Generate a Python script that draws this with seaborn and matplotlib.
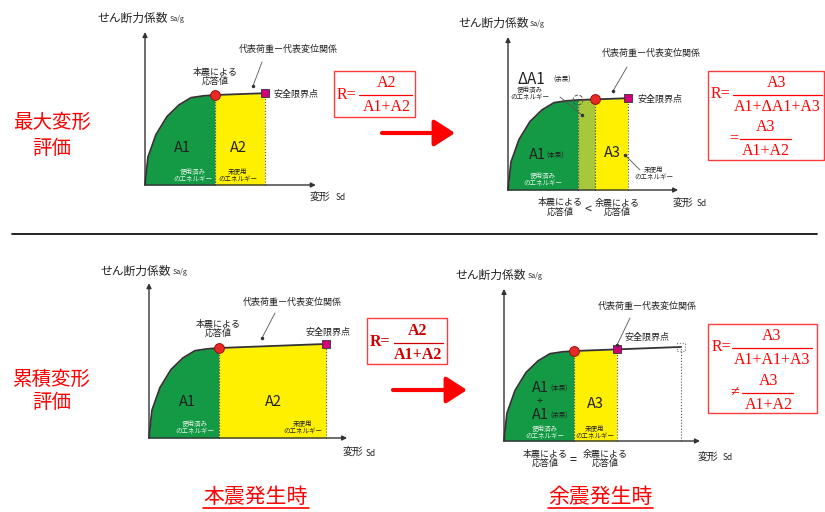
import numpy as np
import matplotlib
matplotlib.use("Agg")
import matplotlib.pyplot as plt
from matplotlib.patches import Rectangle
import seaborn as sns

# 骨格曲線 (代表荷重-代表変位関係): 本震応答で正規化した値
backbone_sd = [0.0, 0.014, 0.043, 0.157, 0.314, 0.486, 0.657, 0.829, 1.0]
backbone_sa = [0.0, 0.11, 0.31, 0.56, 0.76, 0.89, 0.97, 0.99, 1.0]

main_resp_sd = 1.0          # 本震による応答値
after_resp_sd = 1.24        # 余震による応答値 (最大変形評価)
limit_top = (1.71, 1.02)    # 安全限界点 (上段)
limit_bot = (2.53, 1.045)   # 安全限界点 (下段, 当初)
limit_reduced_sd = 1.61     # 累積評価後の安全限界点

# 座標軸の長さ (Sd, Sa)
axis_len = {"p1": (2.44, 1.70), "p2": (2.43, 1.70), "p3": (2.83, 1.72), "p4": (2.80, 1.69)}

GREEN = "#149a45"
LGREEN = "#a6c83a"
YELLOW = "#fff000"
RED = "#ff0000"
JP = ["Noto Sans CJK JP", "DejaVu Sans"]
SERIF = ["Liberation Serif", "DejaVu Serif"]

sns.set_theme(style="white")
plt.rcParams["font.family"] = JP

W, H = 825, 512
SX, SY = 70.0, 90.0  # px per unit

fig = plt.figure(figsize=(W / 100, H / 100), dpi=100)


def panel_axes(ox, oy):
    ax = fig.add_axes([(ox - 10) / W, 1 - (oy + 10) / H, 230 / W, 180 / H])
    ax.set_xlim(-10 / SX, 220 / SX)
    ax.set_ylim(-10 / SY, 170 / SY)
    ax.axis("off")
    return ax


def curve(limit):
    return backbone_sd + [limit[0]], backbone_sa + [limit[1]]


def fill_region(ax, sd, sa, a, b, color):
    xs = [a] + [x for x in sd if a < x < b] + [b]
    ys = list(np.interp(xs, sd, sa))
    ax.fill_between(xs, ys, 0, color=color, lw=0, zorder=1)
    ax.vlines([a, b], 0, [ys[0], ys[-1]], colors="#555555", linestyles=":", lw=0.8, zorder=2)


def draw_axes(ax, key):
    xl, yl = axis_len[key]
    kw = dict(arrowstyle="-|>", color="#333333", lw=1.0, mutation_scale=7, shrinkA=0, shrinkB=0)
    ax.annotate("", xy=(xl, 0), xytext=(0, 0), arrowprops=kw)
    ax.annotate("", xy=(0, yl), xytext=(0, 0), arrowprops=kw)


def draw_curve(ax, sd, sa):
    sns.lineplot(x=sd, y=sa, ax=ax, color="#333333", lw=1.3, sort=False, estimator=None, zorder=3)


def mark(ax, x, y, kind):
    if kind == "resp":
        sns.scatterplot(x=[x], y=[y], ax=ax, s=50, color="#e62a25", edgecolor="#9b1010", linewidth=0.7, zorder=6)
    elif kind == "limit":
        sns.scatterplot(x=[x], y=[y], ax=ax, s=32, marker="s", color="#d1007a", edgecolor="#333333", linewidth=0.6, zorder=6)
    elif kind == "ghost_o":
        ax.scatter([x], [y], s=50, facecolor="none", edgecolor="#555555", linestyle="--", linewidth=0.7, zorder=6)
    elif kind == "ghost_s":
        ax.scatter([x], [y], s=30, marker="s", facecolor="none", edgecolor="#777777", linestyle=":", linewidth=0.8, zorder=6)


# ---------- パネル1: 最大変形評価 / 本震発生時 ----------
ax1 = panel_axes(145, 185)
sd, sa = curve(limit_top)
fill_region(ax1, sd, sa, 0, main_resp_sd, GREEN)
fill_region(ax1, sd, sa, main_resp_sd, limit_top[0], YELLOW)
draw_axes(ax1, "p1")
draw_curve(ax1, sd, sa)
mark(ax1, main_resp_sd, np.interp(main_resp_sd, sd, sa), "resp")
mark(ax1, limit_top[0], limit_top[1], "limit")

# ---------- パネル2: 最大変形評価 / 余震発生時 ----------
ax2 = panel_axes(508, 190)
fill_region(ax2, sd, sa, 0, main_resp_sd, GREEN)
fill_region(ax2, sd, sa, main_resp_sd, after_resp_sd, LGREEN)
fill_region(ax2, sd, sa, after_resp_sd, limit_top[0], YELLOW)
draw_axes(ax2, "p2")
draw_curve(ax2, sd, sa)
mark(ax2, main_resp_sd, np.interp(main_resp_sd, sd, sa), "ghost_o")
mark(ax2, after_resp_sd, np.interp(after_resp_sd, sd, sa), "resp")
mark(ax2, limit_top[0], limit_top[1], "limit")

# ---------- パネル3: 累積変形評価 / 本震発生時 ----------
ax3 = panel_axes(149, 438)
sd, sa = curve(limit_bot)
fill_region(ax3, sd, sa, 0, main_resp_sd, GREEN)
fill_region(ax3, sd, sa, main_resp_sd, limit_bot[0], YELLOW)
draw_axes(ax3, "p3")
draw_curve(ax3, sd, sa)
mark(ax3, main_resp_sd, np.interp(main_resp_sd, sd, sa), "resp")
mark(ax3, limit_bot[0], limit_bot[1], "limit")

# ---------- パネル4: 累積変形評価 / 余震発生時 ----------
ax4 = panel_axes(504, 441)
fill_region(ax4, sd, sa, 0, main_resp_sd, GREEN)
fill_region(ax4, sd, sa, main_resp_sd, limit_reduced_sd, YELLOW)
ax4.vlines([limit_bot[0]], 0, [limit_bot[1]], colors="#555555", linestyles=":", lw=0.8, zorder=2)
draw_axes(ax4, "p4")
draw_curve(ax4, sd, sa)
mark(ax4, main_resp_sd, np.interp(main_resp_sd, sd, sa), "resp")
mark(ax4, limit_reduced_sd, np.interp(limit_reduced_sd, sd, sa), "limit")
mark(ax4, limit_bot[0], limit_bot[1], "ghost_s")

# ---------- 注記レイヤー (ピクセル座標) ----------
ov = fig.add_axes([0, 0, 1, 1], zorder=10)
ov.set_xlim(0, W)
ov.set_ylim(H, 0)
ov.axis("off")


def txt(x, y, s, size, color="#222222", ha="center", family=JP, weight="normal"):
    ov.text(x, y, s, fontsize=size, color=color, ha=ha, va="center", family=family, fontweight=weight)


def leader(x0, y0, x1, y1):
    ov.plot([x0, x1], [y0, y1], color="#555555", lw=0.6)
    ov.plot([x1], [y1], "o", color="#333333", ms=1.5)


def two_lines(x, y, a, b, size, color="#222222", gap=8):
    txt(x, y, a, size, color)
    txt(x, y + gap, b, size, color)


def y_label(x, y, sa_x):
    txt(x, y, "せん断力係数", 8.5, ha="left")
    txt(sa_x, y + 1, "Sa/g", 5, ha="left")


def x_label(x, y, sd_x):
    txt(x, y, "変形", 7.5, ha="left")
    txt(sd_x, y + 1, "Sd", 6, ha="left")


SMALL = 4.7
WHITE_TXT = "#e8f3ea"

# パネル1
y_label(97, 18, 170)
txt(288, 49, "代表荷重ー代表変位関係", 6.5)
leader(262, 62, 253, 86)
two_lines(215, 72, "本震による", "応答値", 6.5, gap=9)
txt(273, 94, "安全限界点", 6.5, ha="left")
txt(182, 148, "A1", 10.5)
txt(238, 148, "A2", 10.5)
two_lines(193, 172, "使用済み", "のエネルギー", SMALL, WHITE_TXT, gap=7)
two_lines(238, 172, "未使用", "のエネルギー", SMALL, gap=7)
x_label(310, 197, 336)

# パネル2
y_label(458, 23, 530)
txt(651, 53, "代表荷重ー代表変位関係", 6.5)
leader(627, 67, 613, 91)
txt(517, 79, "ΔA1", 11, ha="left")
txt(553, 80, "(余震)", SMALL, ha="left")
two_lines(530, 90, "使用済み", "のエネルギー", SMALL, gap=7)
leader(560, 97, 582, 115)
txt(637, 99, "安全限界点", 6.5, ha="left")
txt(537, 155, "A1", 10.5)
txt(555, 156, "(本震)", SMALL)
two_lines(543, 176, "使用済み", "のエネルギー", SMALL, WHITE_TXT, gap=7)
txt(612, 153, "A3", 10.5)
leader(640, 170, 625, 155)
two_lines(654, 170, "未使用", "のエネルギー", SMALL, gap=7)
x_label(673, 203, 697)
two_lines(560, 203, "本震による", "応答値", 6.5, gap=9)
txt(588, 209, "<", 9)
two_lines(617, 203, "余震による", "応答値", 6.5, gap=9)

# パネル3
y_label(100, 271, 173)
txt(292, 302, "代表荷重ー代表変位関係", 6.5)
leader(275, 313, 262, 338)
two_lines(218, 324, "本震による", "応答値", 6.5, gap=9)
txt(328, 332, "安全限界点", 6.5)
txt(187, 402, "A1", 10.5)
txt(273, 402, "A2", 10.5)
two_lines(195, 424, "使用済み", "のエネルギー", SMALL, WHITE_TXT, gap=7)
two_lines(303, 424, "未使用", "のエネルギー", SMALL, gap=7)
x_label(343, 452, 366)

# パネル4
y_label(455, 275, 528)
txt(647, 306, "代表荷重ー代表変位関係", 6.5)
leader(630, 318, 617, 345)
txt(647, 337, "安全限界点", 6.5)
txt(540, 388, "A1", 10.5)
txt(559, 389, "(本震)", SMALL)
txt(540, 401, "+", 8)
txt(540, 415, "A1", 10.5)
txt(559, 416, "(余震)", SMALL)
two_lines(545, 429, "使用済み", "のエネルギー", SMALL, WHITE_TXT, gap=7)
txt(595, 404, "A3", 10.5)
two_lines(595, 429, "未使用", "のエネルギー", SMALL, gap=7)
x_label(698, 457, 723)
two_lines(545, 454, "本震による", "応答値", 6.5, gap=9)
txt(573, 460, "=", 9)
two_lines(605, 454, "余震による", "応答値", 6.5, gap=9)


# ---------- 評価式 ----------
def frac(xc, y, num, den, x0, x1, size=11.5, color=RED, weight="normal"):
    txt(xc, y - 12, num, size, color, family=SERIF, weight=weight)
    ov.plot([x0, x1], [y, y], color=color, lw=0.9)
    txt(xc, y + 12, den, size, color, family=SERIF, weight=weight)


def box(x0, y0, x1, y1):
    ov.add_patch(Rectangle((x0, y0), x1 - x0, y1 - y0, fill=False, ec="#ff3b3b", lw=1.0))


box(334, 71, 415, 117)
txt(337, 95, "R=", 11.5, RED, ha="left", family=SERIF)
frac(387, 95, "A2", "A1+A2", 359, 412)

box(708, 71, 824, 160)
txt(711, 94, "R=", 11.5, RED, ha="left", family=SERIF)
frac(777, 95, "A3", "A1+ΔA1+A3", 733, 822)
txt(734, 138, "=", 11.5, RED, family=SERIF)
frac(766, 139, "A3", "A1+A2", 740, 791)

box(367, 318, 447, 364)
txt(370, 342, "R=", 11.5, "#cc0000", ha="left", family=SERIF, weight="bold")
frac(418, 343, "A2", "A1+A2", 394, 443, color="#cc0000", weight="bold")

box(708, 324, 817, 413)
txt(712, 347, "R=", 11.5, RED, ha="left", family=SERIF)
frac(772, 348, "A3", "A1+A1+A3", 732, 812)
txt(735, 392, "≠", 11.5, RED, family=SERIF)
frac(769, 393, "A3", "A1+A2", 742, 793)

# ---------- 矢印・区切り線・見出し ----------
arrow_kw = dict(arrowstyle="-|>,head_length=0.7,head_width=0.45", color=RED, lw=3,
                mutation_scale=18, shrinkA=0, shrinkB=0)
ov.annotate("", xy=(455, 133), xytext=(382, 133), arrowprops=arrow_kw)
ov.annotate("", xy=(467, 390), xytext=(393, 390), arrowprops=arrow_kw)

ov.plot([12, 817], [234, 234], color="#111111", lw=1.3)

txt(52, 122, "最大変形", 14, RED)
txt(52, 148, "評価", 14, RED)
txt(52, 379, "累積変形", 14, RED)
txt(52, 403, "評価", 14, RED)

txt(256, 497, "本震発生時", 15, RED)
ov.plot([203, 309], [508, 508], color=RED, lw=1.2)
txt(600, 497, "余震発生時", 15, RED)
ov.plot([548, 653], [508, 508], color=RED, lw=1.2)

fig.savefig("out.png", dpi=100, facecolor="white")
